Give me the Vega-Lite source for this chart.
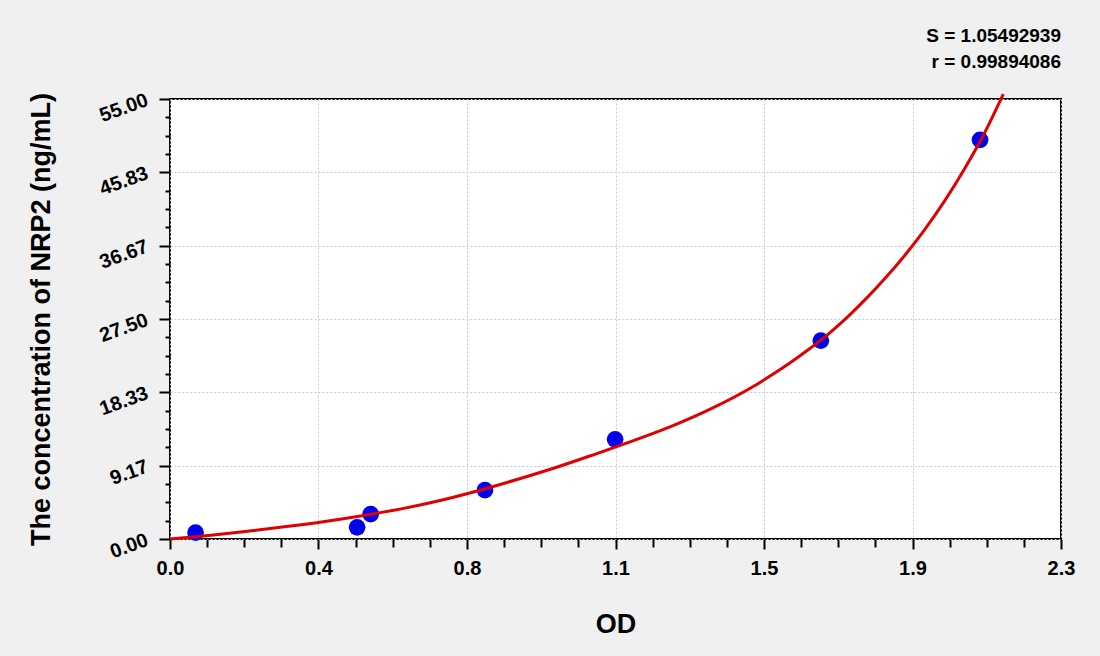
{
  "$schema": "https://vega.github.io/schema/vega-lite/v6.json",
  "description": "NRP2 ELISA standard curve",
  "width": 891,
  "height": 440,
  "autosize": {"type": "none"},
  "padding": {"left": 170, "top": 99, "right": 39, "bottom": 117},
  "background": "#f0f0f0",
  "title": {
    "text": ["S = 1.05492939", "r = 0.99894086"],
    "anchor": "end",
    "frame": "group",
    "fontSize": 19,
    "fontWeight": "bold",
    "font": "Liberation Sans",
    "color": "#000000",
    "lineHeight": 26,
    "offset": 16
  },
  "datasets": {
    "points": [
      {"od": 0.066, "conc": 0.79},
      {"od": 0.483, "conc": 1.46},
      {"od": 0.518, "conc": 3.1},
      {"od": 0.813, "conc": 6.1},
      {"od": 1.149, "conc": 12.46},
      {"od": 1.68, "conc": 24.8},
      {"od": 2.091, "conc": 49.9}
    ],
    "curve": [
      {"od": 0.0, "conc": 0.0},
      {"od": 0.1, "conc": 0.45},
      {"od": 0.2, "conc": 0.97},
      {"od": 0.3, "conc": 1.55},
      {"od": 0.4, "conc": 2.2},
      {"od": 0.5, "conc": 2.95},
      {"od": 0.6, "conc": 3.8},
      {"od": 0.7, "conc": 4.85},
      {"od": 0.8, "conc": 6.1},
      {"od": 0.9, "conc": 7.5},
      {"od": 1.0, "conc": 9.0},
      {"od": 1.1, "conc": 10.65},
      {"od": 1.2, "conc": 12.35},
      {"od": 1.3, "conc": 14.2},
      {"od": 1.4, "conc": 16.35},
      {"od": 1.5, "conc": 18.9},
      {"od": 1.55, "conc": 20.4},
      {"od": 1.6, "conc": 22.0},
      {"od": 1.65, "conc": 23.75},
      {"od": 1.7, "conc": 25.65},
      {"od": 1.75, "conc": 27.8},
      {"od": 1.8, "conc": 30.2},
      {"od": 1.85, "conc": 32.8},
      {"od": 1.9, "conc": 35.65},
      {"od": 1.95, "conc": 38.8},
      {"od": 2.0, "conc": 42.3},
      {"od": 2.05, "conc": 46.2},
      {"od": 2.1, "conc": 50.5},
      {"od": 2.151, "conc": 55.6}
    ]
  },
  "encoding": {
    "x": {
      "field": "od",
      "type": "quantitative",
      "scale": {"domain": [0, 2.3], "nice": false, "zero": false},
      "axis": {
        "title": "OD",
        "values": [0, 0.095833, 0.191667, 0.2875, 0.383333, 0.479167, 0.575, 0.670833, 0.766667, 0.8625, 0.958333, 1.054167, 1.15, 1.245833, 1.341667, 1.4375, 1.533333, 1.629167, 1.725, 1.820833, 1.916667, 2.0125, 2.108333, 2.204167, 2.3],
        "labelExpr": "abs(datum.value*6/2.3 - round(datum.value*6/2.3)) < 0.01 ? format(datum.value, '.1f') : ''",
        "tickSize": {"condition": {"test": "abs(datum.value*6/2.3 - round(datum.value*6/2.3)) < 0.01", "value": 10}, "value": 8},
        "gridOpacity": {"condition": {"test": "abs(datum.value*6/2.3 - round(datum.value*6/2.3)) < 0.01", "value": 1}, "value": 0},
        "labelPadding": 9,
        "labelBaseline": "top",
        "titleY": 85,
        "titleBaseline": "middle"
      }
    },
    "y": {
      "field": "conc",
      "type": "quantitative",
      "scale": {"domain": [0, 55], "nice": false, "zero": true},
      "axis": {
        "title": "The concentration of NRP2 (ng/mL)",
        "values": [0, 2.291667, 4.583333, 6.875, 9.166667, 11.458333, 13.75, 16.041667, 18.333333, 20.625, 22.916667, 25.208333, 27.5, 29.791667, 32.083333, 34.375, 36.666667, 38.958333, 41.25, 43.541667, 45.833333, 48.125, 50.416667, 52.708333, 55],
        "labelExpr": "abs(datum.value*6/55 - round(datum.value*6/55)) < 0.01 ? format(datum.value, '.2f') : ''",
        "tickSize": {"condition": {"test": "abs(datum.value*6/55 - round(datum.value*6/55)) < 0.01", "value": 11}, "value": 5},
        "gridOpacity": {"condition": {"test": "abs(datum.value*6/55 - round(datum.value*6/55)) < 0.01", "value": 1}, "value": 0},
        "labelAngle": -20,
        "labelAlign": "right",
        "labelBaseline": "middle",
        "labelPadding": 12,
        "titleX": -129,
        "titleBaseline": "middle",
        "titleAngle": -90
      }
    }
  },
  "layer": [
    {
      "data": {"name": "points"},
      "mark": {"type": "circle", "size": 280, "color": "#0000ee", "opacity": 1}
    },
    {
      "data": {"name": "curve"},
      "mark": {"type": "line", "color": "#e00000", "strokeWidth": 3, "interpolate": "monotone", "clip": false}
    }
  ],
  "config": {
    "view": {"fill": "#ffffff", "stroke": "#000000", "strokeWidth": 2},
    "axis": {
      "domain": false,
      "grid": true,
      "gridColor": "#c8c8c8",
      "gridDash": [2, 2],
      "gridWidth": 1,
      "tickColor": "#000000",
      "tickWidth": 2,
      "labelFont": "Liberation Sans",
      "labelFontSize": 20,
      "labelFontWeight": "bold",
      "labelColor": "#000000",
      "labelOverlap": false,
      "labelFlush": false,
      "titleFont": "Liberation Sans",
      "titleFontSize": 27,
      "titleFontWeight": "bold",
      "titleColor": "#000000"
    }
  }
}
